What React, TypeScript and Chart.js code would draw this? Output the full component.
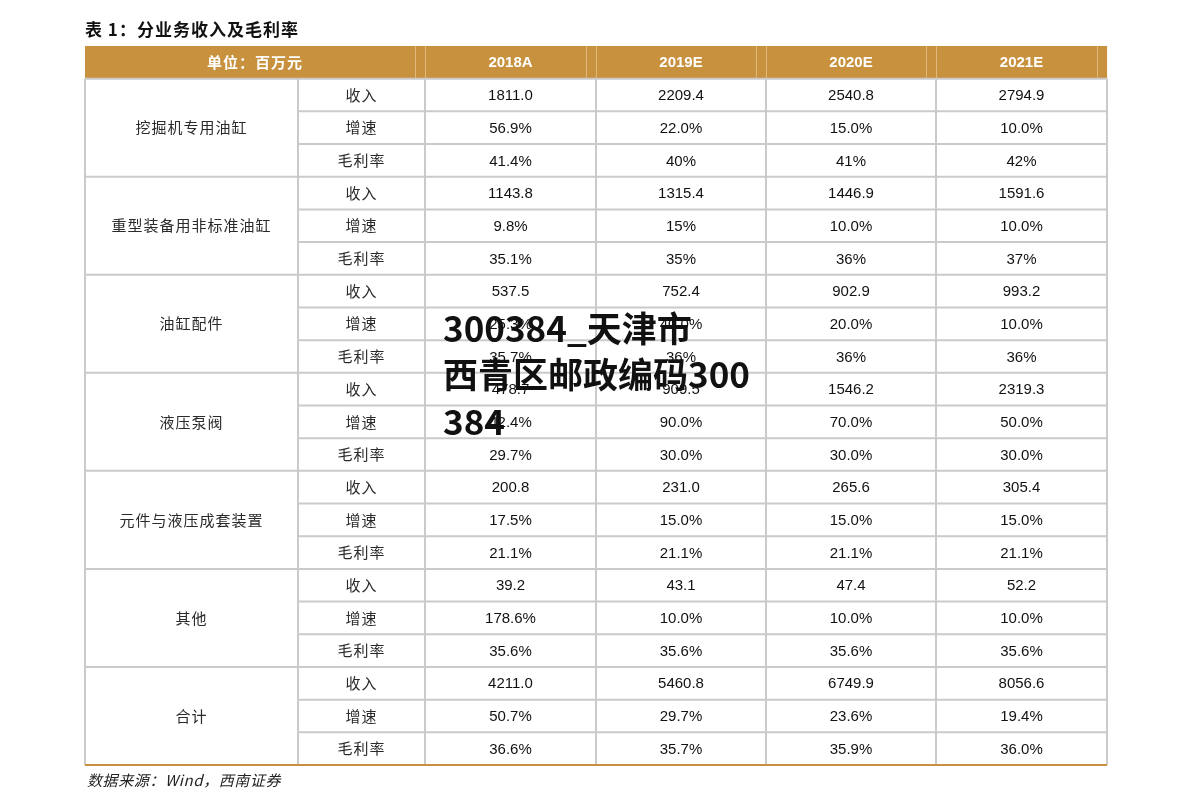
import React, { useEffect, useRef } from "react";
import { Chart, registerables } from "chart.js";

Chart.register(...registerables);

const titleText = "表 1：分业务收入及毛利率";
const unitLabel = "单位：百万元";
const sourceText = "数据来源：Wind，西南证券";
const watermarkLines = ["300384_天津市", "西青区邮政编码300", "384"];

const years = ["2018A", "2019E", "2020E", "2021E"];
const segments = [
  "挖掘机专用油缸",
  "重型装备用非标准油缸",
  "油缸配件",
  "液压泵阀",
  "元件与液压成套装置",
  "其他",
  "合计",
];
const metrics = ["收入", "增速", "毛利率"];

const revenue = [
  [1811.0, 2209.4, 2540.8, 2794.9],
  [1143.8, 1315.4, 1446.9, 1591.6],
  [537.5, 752.4, 902.9, 993.2],
  [478.7, 909.5, 1546.2, 2319.3],
  [200.8, 231.0, 265.6, 305.4],
  [39.2, 43.1, 47.4, 52.2],
  [4211.0, 5460.8, 6749.9, 8056.6],
];
const growth = [
  ["56.9%", "22.0%", "15.0%", "10.0%"],
  ["9.8%", "15%", "10.0%", "10.0%"],
  ["25.3%", "40.0%", "20.0%", "10.0%"],
  ["42.4%", "90.0%", "70.0%", "50.0%"],
  ["17.5%", "15.0%", "15.0%", "15.0%"],
  ["178.6%", "10.0%", "10.0%", "10.0%"],
  ["50.7%", "29.7%", "23.6%", "19.4%"],
];
const margin = [
  ["41.4%", "40%", "41%", "42%"],
  ["35.1%", "35%", "36%", "37%"],
  ["35.7%", "36%", "36%", "36%"],
  ["29.7%", "30.0%", "30.0%", "30.0%"],
  ["21.1%", "21.1%", "21.1%", "21.1%"],
  ["35.6%", "35.6%", "35.6%", "35.6%"],
  ["36.6%", "35.7%", "35.9%", "36.0%"],
];

// layout (scale units): column edges along x, one unit per row along y
const COL_EDGES = [0, 213, 340, 511, 681, 851, 1022];
const TOTAL_ROWS = 1 + segments.length * metrics.length;

const GOLD = "#c8913e";
const GRID = "#cacaca";
const CJK = '"Noto Sans CJK SC", sans-serif';
const LATIN = '"Liberation Sans", Arial, sans-serif';

function metricText(s: number, m: number, c: number): string {
  if (m === 0) return revenue[s][c].toFixed(1);
  if (m === 1) return growth[s][c];
  return margin[s][c];
}

function spaced(ctx: any, px: number) {
  try {
    ctx.letterSpacing = px + "px";
  } catch (e) {
    /* ignore */
  }
}

const tablePlugin = {
  id: "tablePlugin",
  beforeDatasetsDraw(chart: any) {
    const ctx = chart.ctx as CanvasRenderingContext2D;
    const xs = chart.scales.x;
    const ys = chart.scales.y;
    const X = (v: number) => xs.getPixelForValue(v);
    const Y = (v: number) => ys.getPixelForValue(v);
    const left = X(COL_EDGES[0]);
    const right = X(COL_EDGES[COL_EDGES.length - 1]);
    ctx.save();

    // header band
    ctx.fillStyle = GOLD;
    ctx.fillRect(left, Y(0), right - left, Y(1) - Y(0));
    ctx.strokeStyle = "rgba(255,235,200,0.45)";
    ctx.lineWidth = 1;
    for (let i = 2; i < COL_EDGES.length; i++) {
      const px = Math.round(X(COL_EDGES[i])) + 0.5;
      [px - 10, px].forEach((p) => {
        ctx.beginPath();
        ctx.moveTo(p, Y(0));
        ctx.lineTo(p, Y(1));
        ctx.stroke();
      });
    }

    // grid lines
    ctx.strokeStyle = GRID;
    ctx.lineWidth = 2;
    for (let r = 1; r < TOTAL_ROWS; r++) {
      const inSeg = (r - 1) % metrics.length;
      const startX = inSeg === 0 ? left : X(COL_EDGES[1]);
      const py = Y(r);
      ctx.beginPath();
      ctx.moveTo(startX, py);
      ctx.lineTo(right, py);
      ctx.stroke();
    }
    for (let i = 0; i < COL_EDGES.length; i++) {
      const px = X(COL_EDGES[i]);
      ctx.beginPath();
      ctx.moveTo(px, Y(1));
      ctx.lineTo(px, Y(TOTAL_ROWS));
      ctx.stroke();
    }
    // bottom gold rule
    ctx.strokeStyle = GOLD;
    ctx.lineWidth = 2;
    ctx.beginPath();
    ctx.moveTo(left, Y(TOTAL_ROWS));
    ctx.lineTo(right, Y(TOTAL_ROWS));
    ctx.stroke();

    // header text
    ctx.textAlign = "center";
    ctx.textBaseline = "middle";
    ctx.fillStyle = "#ffffff";
    ctx.font = `bold 15px ${CJK}`;
    spaced(ctx, 1);
    ctx.fillText(unitLabel, (X(COL_EDGES[0]) + X(COL_EDGES[2])) / 2, Y(0.5));
    spaced(ctx, 0);
    ctx.font = `bold 15px ${LATIN}`;
    years.forEach((yr, c) => {
      ctx.fillText(yr, (X(COL_EDGES[c + 2]) + X(COL_EDGES[c + 3])) / 2, Y(0.5) + 1);
    });

    // body text
    segments.forEach((name, s) => {
      const r0 = 1 + s * metrics.length;
      ctx.fillStyle = "#2a2a2a";
      ctx.font = `15px ${CJK}`;
      spaced(ctx, 1);
      ctx.fillText(name, (X(COL_EDGES[0]) + X(COL_EDGES[1])) / 2, Y(r0 + metrics.length / 2));
      metrics.forEach((m, mi) => {
        const cy = Y(r0 + mi + 0.5);
        ctx.fillStyle = "#2a2a2a";
        ctx.font = `15px ${CJK}`;
        spaced(ctx, 1);
        ctx.fillText(m, (X(COL_EDGES[1]) + X(COL_EDGES[2])) / 2, cy);
        spaced(ctx, 0);
        ctx.fillStyle = "#111";
        ctx.font = `15px ${LATIN}`;
        years.forEach((_, c) => {
          ctx.fillText(metricText(s, mi, c), (X(COL_EDGES[c + 2]) + X(COL_EDGES[c + 3])) / 2, cy + 1);
        });
      });
    });

    // title and source
    ctx.textAlign = "left";
    ctx.textBaseline = "alphabetic";
    ctx.fillStyle = "#111";
    ctx.font = `bold 17px ${CJK}`;
    spaced(ctx, 1);
    ctx.fillText(titleText, left, Y(0) - 10);
    ctx.font = `italic 15px ${CJK}`;
    ctx.fillStyle = "#222";
    spaced(ctx, 0.6);
    ctx.fillText(sourceText, left + 2, Y(TOTAL_ROWS) + 21);
    spaced(ctx, 0);
    ctx.restore();
  },
  afterDraw(chart: any) {
    const ctx = chart.ctx as CanvasRenderingContext2D;
    const xs = chart.scales.x;
    const ys = chart.scales.y;
    ctx.save();
    ctx.fillStyle = "#111";
    ctx.font = `bold 35px ${CJK}`;
    ctx.textAlign = "left";
    ctx.textBaseline = "alphabetic";
    const x0 = xs.getPixelForValue(COL_EDGES[2]) + 18;
    const yBase = ys.getPixelForValue(9.05);
    watermarkLines.forEach((line, i) => {
      ctx.fillText(line, x0, yBase + i * 46.5);
    });
    ctx.restore();
  },
};

export default function App() {
  const ref = useRef<HTMLCanvasElement | null>(null);
  useEffect(() => {
    if (!ref.current) return;
    const points: { x: number; y: number }[] = [];
    segments.forEach((_, s) =>
      metrics.forEach((__, m) =>
        years.forEach((___, c) =>
          points.push({
            x: (COL_EDGES[c + 2] + COL_EDGES[c + 3]) / 2,
            y: 1 + s * metrics.length + m + 0.5,
          })
        )
      )
    );
    const chart = new Chart(ref.current, {
      type: "scatter",
      data: { datasets: [{ data: points, pointRadius: 0, showLine: false }] },
      options: {
        animation: false,
        responsive: false,
        layout: { padding: { left: 85, right: 84, top: 46, bottom: 46 } },
        plugins: { legend: { display: false }, tooltip: { enabled: false }, title: { display: false } },
        scales: {
          x: { type: "linear", min: 0, max: COL_EDGES[COL_EDGES.length - 1], display: false },
          y: { type: "linear", min: 0, max: TOTAL_ROWS, reverse: true, display: false },
        },
      },
      plugins: [tablePlugin],
    });
    return () => chart.destroy();
  }, []);
  return (
    <canvas
      ref={ref}
      width={1191}
      height={811}
      style={{ position: "absolute", left: 0, top: 0, background: "#fff" }}
    />
  );
}
